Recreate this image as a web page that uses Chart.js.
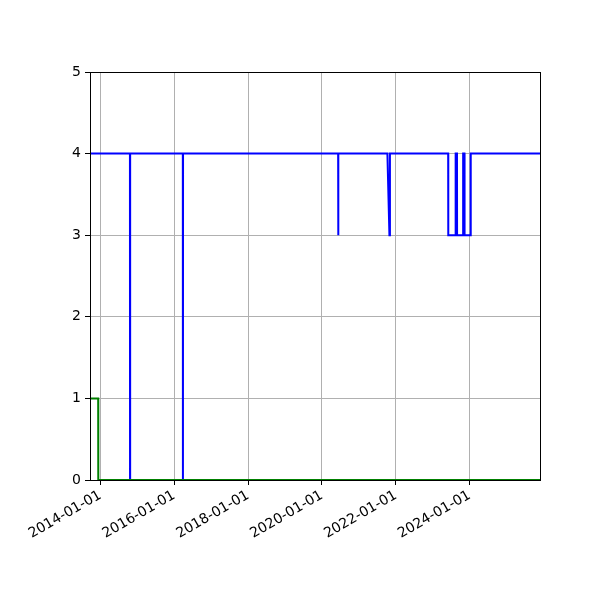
<!DOCTYPE html>
<html>
<head>
<meta charset="utf-8">
<script src="https://cdn.jsdelivr.net/npm/chart.js@4"></script>
<style>
  body { margin: 0; background: #fff; }
</style>
</head>
<body>
<canvas id="chart" width="600" height="600"></canvas>
<script>
const ctx = document.getElementById('chart');

// data
const blueDates = ['2013-09-21', '2014-10-21', '2014-10-22', '2014-10-23',
  '2016-03-27', '2016-03-28', '2016-03-29',
  '2020-06-10', '2020-06-11', '2020-06-12',
  '2021-10-10', '2021-10-30', '2021-11-04',
  '2023-06-03', '2023-06-04', '2023-08-15', '2023-08-16', '2023-08-29', '2023-08-30',
  '2023-10-28', '2023-10-29', '2023-11-11', '2023-11-12', '2024-01-11', '2024-01-12',
  '2025-11-27'];
const blueValues = [4, 4, 0, 4,
  4, 0, 4,
  4, 3, 4,
  4, 3, 4,
  4, 3, 3, 4, 4, 3,
  3, 4, 4, 3, 3, 4,
  4];
const greenDates = ['2013-09-21', '2013-12-11', '2013-12-12', '2025-11-27'];
const greenValues = [1, 1, 0, 0];
const tickDates = ['2014-01-01', '2016-01-01', '2018-01-01', '2020-01-01', '2022-01-01', '2024-01-01'];
const yTicks = [0, 1, 2, 3, 4, 5];
const xStart = '2013-09-21';
const xEnd = '2025-11-27';

function toMs(s) {
  const p = s.split('-');
  return Date.UTC(+p[0], +p[1] - 1, +p[2]);
}

function toLabel(ms) {
  const d = new Date(ms);
  const mm = String(d.getUTCMonth() + 1).padStart(2, '0');
  const dd = String(d.getUTCDate()).padStart(2, '0');
  return d.getUTCFullYear() + '-' + mm + '-' + dd;
}

function makePoints(dates, values) {
  let pts = [];
  for (let i = 0; i < dates.length; i++) {
    pts.push({ x: toMs(dates[i]), y: values[i] });
  }
  return pts;
}

// black box round the plot area, like matplotlib spines
const frame = {
  id: 'frame',
  afterDraw(chart) {
    const a = chart.chartArea;
    const c = chart.ctx;
    c.save();
    c.strokeStyle = '#000';
    c.lineWidth = 1;
    c.strokeRect(Math.round(a.left) + 0.5, Math.round(a.top) + 0.5,
      Math.round(a.right - a.left), Math.round(a.bottom - a.top));
    c.restore();
  }
};

const font = { family: 'DejaVu Sans', size: 14 };

new Chart(ctx, {
  type: 'line',
  data: {
    datasets: [{
      data: makePoints(greenDates, greenValues),
      borderColor: '#008000',
      borderWidth: 2,
      pointRadius: 0,
      tension: 0
    }, {
      data: makePoints(blueDates, blueValues),
      borderColor: '#0000ff',
      borderWidth: 2,
      pointRadius: 0,
      tension: 0
    }]
  },
  options: {
    responsive: false,
    animation: false,
    devicePixelRatio: 1,
    layout: { padding: { left: 0, right: 60, top: 72, bottom: 0 } },
    plugins: {
      legend: { display: false },
      tooltip: { enabled: false }
    },
    scales: {
      x: {
        type: 'linear',
        min: toMs(xStart),
        max: toMs(xEnd),
        afterBuildTicks(scale) {
          scale.ticks = tickDates.map(d => ({ value: toMs(d) }));
        },
        afterFit(scale) { scale.height = 120; },
        ticks: {
          autoSkip: false,
          maxRotation: 30,
          minRotation: 30,
          padding: 2,
          color: '#000',
          font: font,
          callback: v => toLabel(v)
        },
        grid: { color: '#b0b0b0', tickColor: '#000', tickLength: 5 },
        border: { color: '#000' }
      },
      y: {
        min: 0,
        max: 5,
        afterBuildTicks(scale) {
          scale.ticks = yTicks.map(v => ({ value: v }));
        },
        afterFit(scale) { scale.width = 90; },
        ticks: {
          padding: 4,
          color: '#000',
          font: font
        },
        grid: { color: '#b0b0b0', tickColor: '#000', tickLength: 5 },
        border: { color: '#000' }
      }
    }
  },
  plugins: [frame]
});
</script>
</body>
</html>
